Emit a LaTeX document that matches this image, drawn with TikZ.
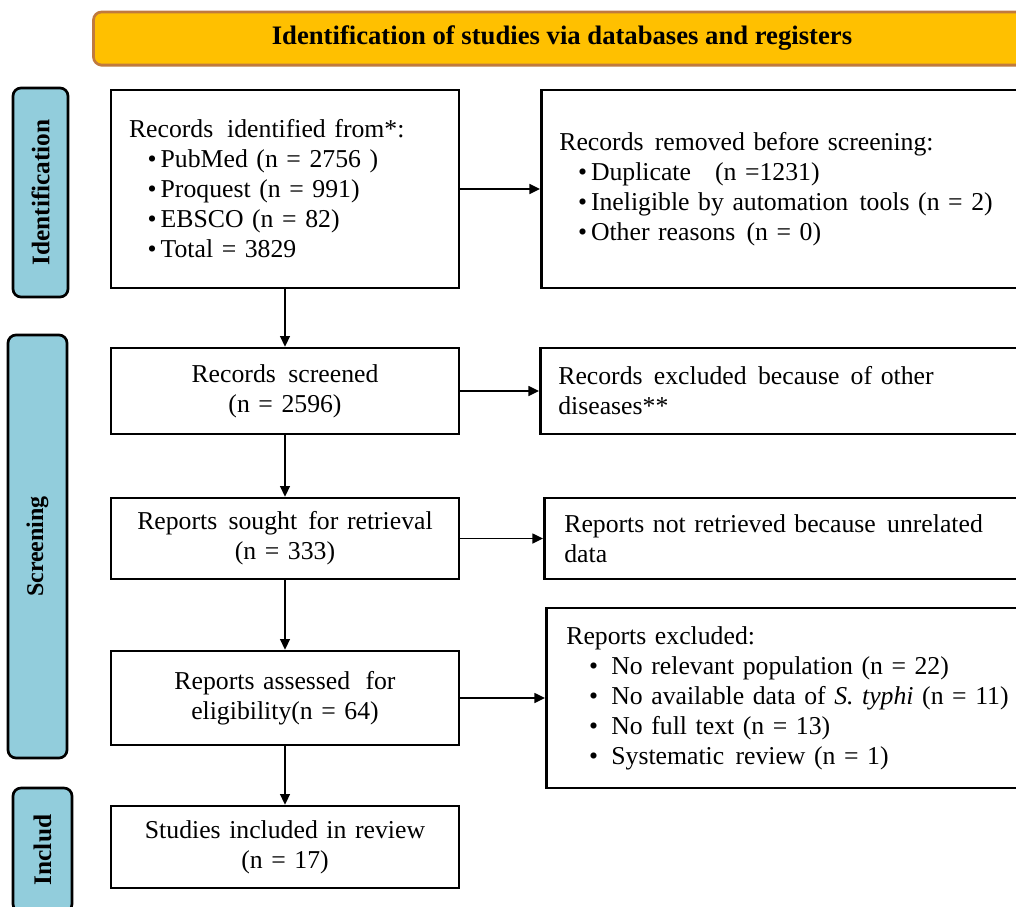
\documentclass[tikz,border=0pt]{standalone}
\usepackage{fontspec}
\setmainfont{Liberation Serif}
\usetikzlibrary{arrows.meta,shadows}
\definecolor{bannerfill}{HTML}{FFC000}
\definecolor{bannerline}{HTML}{C07A3E}
\definecolor{bannershadow}{HTML}{D9B48A}
\definecolor{sidefill}{HTML}{92CDDC}
\newcommand{\bul}{\hspace*{14pt}\textbullet\hspace{3pt}}
\newcommand{\bulb}{\hspace*{17pt}\textbullet\hspace{10pt}}
\begin{document}
\begin{tikzpicture}[x=0.75pt,y=-0.75pt,
  box/.style={draw=black,line width=2pt,fill=white,inner ysep=0pt,
    font=\fontsize{19.3}{22.5}\selectfont},
  lbox/.style={box,align=left,inner xsep=#1},
  rbox/.style={box,align=left,anchor=west,inner xsep=#1,text width=400pt},
  cbox/.style={box,align=center,inner xsep=0pt,text width=261pt},
  side/.style={draw=black,line width=2pt,fill=sidefill,rounded corners=6pt,
    inner sep=0pt,rotate=90,font=\fontsize{19}{21}\selectfont\bfseries},
  banner/.style={draw=bannerline,line width=2pt,fill=bannerfill,rounded corners=6pt,
    inner sep=0pt,font=\fontsize{20}{22}\selectfont\bfseries,
    drop shadow={shadow xshift=0.8pt,shadow yshift=-1.5pt,fill=bannershadow,opacity=0.8}},
  conn/.style={line width=1.1pt,-{Triangle[length=8pt,width=7.5pt]}},
]
\useasboundingbox (0,0) rectangle (1016,906);
\clip (0,0) rectangle (1016,906);

% banner
\node[banner,minimum width=702.75pt,minimum height=39.75pt] (ban) at (562,38.5)
  {Identification of studies via databases and registers};

% side labels
\node[side,minimum width=156.75pt,minimum height=41.25pt] (sid) at (40.5,192.5) {Identification};
\node[side,font=\fontsize{18}{20}\selectfont\bfseries,minimum width=317.25pt,minimum height=44.25pt] (sscr) at (37.5,546.5) {Screening};
\node[side,minimum width=93pt,minimum height=44.25pt] (sinc) at (42.5,850) {Includ};

% left column
\node[lbox=13.5pt,text width=234pt,minimum height=148.5pt] (b1) at (285,189)
  {Records \hspace{4pt}identified from*:\\
   \bul PubMed (n = 2756 )\\
   \bul Proquest (n = 991)\\
   \bul EBSCO (n = 82)\\
   \bul Total = 3829};
\node[cbox,minimum height=64.5pt] (b3) at (285,391)
  {Records \hspace{3pt}screened\\(n = 2596)};
\node[cbox,minimum height=60.75pt] (b5) at (285,538.5)
  {Reports \hspace{2pt}sought \hspace{2pt}for retrieval\\(n = 333)};
\node[cbox,minimum height=70.5pt] (b7) at (285,698)
  {Reports assessed \hspace{5pt}for\\eligibility(n = 64)};
\node[cbox,minimum height=61.5pt] (b9) at (285,847)
  {Studies included in review\\(n = 17)};

% right column
\node[rbox=13.5pt,minimum height=148.5pt] (b2) at (540,189)
  {Records \hspace{2pt}removed before screening:\\
   \bul Duplicate\hspace{18pt}(n =1231)\\
   \bul Ineligible by automation \hspace{2pt}tools (n = 2)\\
   \bul Other reasons \hspace{2pt}(n = 0)};
\node[rbox=13.5pt,minimum height=64.5pt] (b4) at (539,391)
  {Records \hspace{2pt}excluded \hspace{2pt}because \hspace{2pt}of other\\diseases**};
\node[rbox=15pt,minimum height=60.75pt] (b6) at (543,538.5)
  {Reports not retrieved because \hspace{2pt}unrelated\\data};
\node[rbox=15pt,minimum height=135pt] (b8) at (545,698)
  {Reports excluded:\\
   \bulb No relevant population (n = 22)\\
   \bulb No available data of \textit{S. typhi} (n = 11)\\
   \bulb No full text (n = 13)\\
   \bulb Systematic \hspace{2pt}review (n = 1)};

% connectors
\draw[conn] (b1.south) -- (b3.north);
\draw[conn] (b3.south) -- (b5.north);
\draw[conn] (b5.south) -- (b7.north);
\draw[conn] (b7.south) -- (b9.north);
\draw[conn] (b1.east) -- (b1.east -| b2.west);
\draw[conn] (b3.east) -- (b3.east -| b4.west);
\draw[conn] (b5.east) -- (b5.east -| b6.west);
\draw[conn] (b7.east) -- (b7.east -| b8.west);
\end{tikzpicture}
\end{document}
